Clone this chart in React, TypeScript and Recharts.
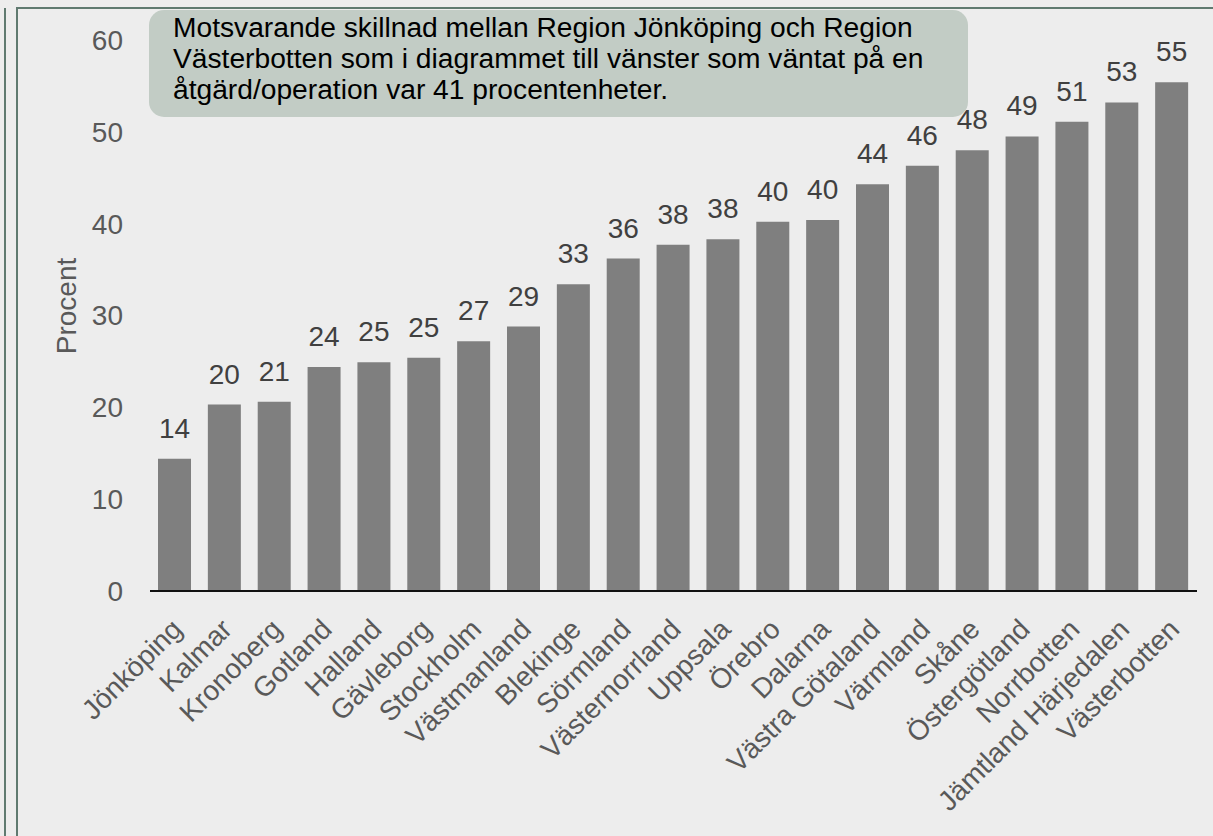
import React from "react";
import { BarChart, Bar, XAxis, YAxis, LabelList } from "recharts";

const regions = [
  "Jönköping",
  "Kalmar",
  "Kronoberg",
  "Gotland",
  "Halland",
  "Gävleborg",
  "Stockholm",
  "Västmanland",
  "Blekinge",
  "Sörmland",
  "Västernorrland",
  "Uppsala",
  "Örebro",
  "Dalarna",
  "Västra Götaland",
  "Värmland",
  "Skåne",
  "Östergötland",
  "Norrbotten",
  "Jämtland Härjedalen",
  "Västerbotten",
];

const percent = [
  14.4, 20.3, 20.6, 24.4, 24.9, 25.4, 27.2, 28.8, 33.4, 36.2, 37.7, 38.3, 40.2,
  40.4, 44.3, 46.3, 48.0, 49.5, 51.1, 53.2, 55.4,
];

// printed value labels
const shownLabels = [
  14, 20, 21, 24, 25, 25, 27, 29, 33, 36, 38, 38, 40, 40, 44, 46, 48, 49, 51,
  53, 55,
];

const yTicks = [0, 10, 20, 30, 40, 50, 60];

const noteLines = [
  "Motsvarande skillnad mellan Region Jönköping och Region",
  "Västerbotten som i diagrammet till vänster som väntat på en",
  "åtgärd/operation var 41 procentenheter.",
];

const data = regions.map((name, i) => ({
  name,
  value: percent[i],
  label: shownLabels[i],
}));

const FONT = '"Liberation Sans", Arial, sans-serif';
const FRAME = "#607a70";

const CategoryTick = (props: any) => {
  const { x, y, payload } = props;
  const px = x + 2;
  const py = y + 31;
  return (
    <text
      x={px}
      y={py}
      dy="0.35em"
      textAnchor="end"
      transform={`rotate(-45 ${px} ${py})`}
      fill="#595959"
      fontSize={28}
      fontFamily={FONT}
    >
      {payload.value}
    </text>
  );
};

export default function App() {
  return (
    <div
      style={{
        position: "absolute",
        left: 0,
        top: 0,
        width: 1213,
        height: 836,
        background: "#ededed",
        overflow: "hidden",
        fontFamily: FONT,
      }}
    >
      {/* frame lines */}
      <div style={{ position: "absolute", left: 4, top: 8, width: 2, height: 828, background: FRAME }} />
      <div style={{ position: "absolute", left: 16, top: 7, width: 2, height: 829, background: FRAME }} />
      <div style={{ position: "absolute", left: 16, top: 7, width: 1197, height: 2, background: FRAME }} />

      <BarChart
        width={1213}
        height={836}
        data={data}
        margin={{ top: 40, right: 16, bottom: 15, left: 0 }}
        barSize={33}
      >
        <XAxis
          dataKey="name"
          interval={0}
          height={230}
          tickLine={false}
          tickSize={0}
          axisLine={{ stroke: "#111111", strokeWidth: 2 }}
          tick={<CategoryTick />}
        />
        <YAxis
          width={150}
          domain={[0, 60]}
          ticks={yTicks}
          axisLine={false}
          tickLine={false}
          tickSize={0}
          tickMargin={27}
          tick={{ fill: "#595959", fontSize: 28, fontFamily: FONT }}
          label={{
            content: () => (
              <text
                x={66}
                y={306}
                dy="0.35em"
                textAnchor="middle"
                transform="rotate(-90 66 306)"
                fill="#595959"
                fontSize={28}
                fontFamily={FONT}
              >
                Procent
              </text>
            ),
          }}
        />
        <Bar dataKey="value" fill="#7f7f7f" isAnimationActive={false}>
          <LabelList
            dataKey="label"
            position="top"
            offset={21}
            fill="#404040"
            fontSize={28}
            fontFamily={FONT}
          />
        </Bar>
      </BarChart>

      <div
        style={{
          position: "absolute",
          left: 149,
          top: 10,
          width: 819,
          height: 107,
          boxSizing: "border-box",
          padding: "2px 0 0 24px",
          background: "#c2ccc5",
          borderRadius: 15,
          color: "#000000",
          fontSize: 28.2,
          lineHeight: "31px",
          whiteSpace: "nowrap",
        }}
      >
        {noteLines.map((l) => (
          <div key={l}>{l}</div>
        ))}
      </div>
    </div>
  );
}
